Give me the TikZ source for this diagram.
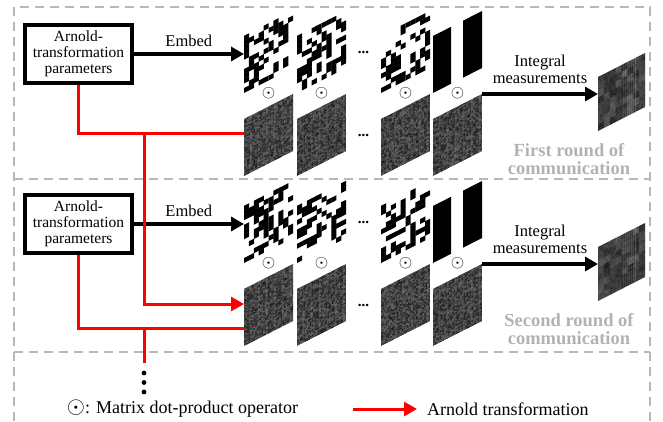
\documentclass[tikz,border=0pt]{standalone}
\usepackage{fontspec}
\setmainfont{Liberation Serif}
\usepackage{tikz}
\usetikzlibrary{positioning, calc, arrows.meta}

% slanted random speckle sheet
\newcommand{\noisetile}[3]{%
  \begin{scope}[shift = {(#2,#3)}, yslant = 0.51]
    \begin{scope}
      \clip (0,0) rectangle (49,57);
      \foreach \i in {0,...,30} {
        \foreach \j in {0,...,35} {
          \pgfmathtruncatemacro{\grey}{62 + 28*rnd}
          \fill [black!\grey] (\i*1.6, \j*1.6) rectangle ++(1.8, 1.8);
        }
      }
    \end{scope}
    \coordinate (#1-sw) at (0,0);
    \coordinate (#1-ne) at (49,57);
    \coordinate (#1-tc) at (24.5,57);
    \coordinate (#1-c) at (24.5,28.5);
    \coordinate (#1-a) at (0,42);
    \coordinate (#1-b) at (0,18);
  \end{scope}}

% slanted binary code sheet
\newcommand{\codetile}[3]{%
  \begin{scope}[shift = {(#2,#3)}, yslant = 0.51]
    \foreach \i in {0,...,9} {
      \foreach \j in {0,...,11} {
        \pgfmathtruncatemacro{\cellon}{rnd < 0.44}
        \ifnum\cellon = 1
          \fill (\i*4.9, \j*4.75) rectangle ++(5.1, 4.95);
        \fi
      }
    }
    \coordinate (#1-sw) at (0,0);
    \coordinate (#1-bc) at (24.5,0);
    \coordinate (#1-c) at (24.5,28.5);
  \end{scope}}

% slanted sheet with two bars
\newcommand{\bartile}[3]{%
  \begin{scope}[shift = {(#2,#3)}, yslant = 0.51]
    \fill (0,0) rectangle (18,57);
    \fill (30,0) rectangle (49,57);
    \coordinate (#1-sw) at (0,0);
    \coordinate (#1-bc) at (24.5,0);
    \coordinate (#1-c) at (24.5,28.5);
  \end{scope}}

% slanted blocky measurement result
\newcommand{\measuretile}[3]{%
  \begin{scope}[shift = {(#2,#3)}, yslant = 0.51]
    \foreach \i in {0,...,7} {
      \foreach \j in {0,...,7} {
        \pgfmathtruncatemacro{\grey}{67 + 20*rnd}
        \expandafter\xdef\csname mblk\i-\j\endcsname{\grey}
      }
    }
    \begin{scope}
      \clip (0,0) rectangle (47,54);
      \foreach \i in {0,...,23} {
        \foreach \j in {0,...,23} {
          \pgfmathtruncatemacro{\bi}{\i/3}
          \pgfmathtruncatemacro{\bj}{\j/3}
          \pgfmathtruncatemacro{\grey}{\csname mblk\bi-\bj\endcsname + 8*(rnd - 0.5)}
          \fill [black!\grey] (\i*1.96, \j*2.25) rectangle ++(2.2, 2.45);
        }
      }
    \end{scope}
    \coordinate (#1-sw) at (0,0);
  \end{scope}}

\begin{document}
\begin{tikzpicture}[x = 1pt, y = 1pt,
    sepline/.style = {draw = black!28, line width = 1.6pt, dash pattern = on 9pt off 6pt},
    param/.style = {draw, line width = 3.2pt, align = center, minimum width = 107pt,
      minimum height = 58pt, inner sep = 2pt, font = \fontsize{15.5}{16}\selectfont},
    flow/.style = {line width = 3.4pt, -{Triangle[length = 13pt, width = 14pt]}},
    arnold/.style = {red, line width = 3pt},
    arnoldtip/.style = {arnold, -{Triangle[length = 13pt, width = 14pt]}},
    lbl/.style = {font = \fontsize{16.5}{17}\selectfont, align = center},
    roundlbl/.style = {text = black!30, font = \fontsize{18.5}{18}\selectfont\bfseries, align = center},
    odotsym/.style = {font = \fontsize{17}{17}\selectfont, inner sep = 0pt},
    skip/.style = {font = \fontsize{15}{15}\selectfont\bfseries, inner sep = 1pt},
    legend/.style = {font = \fontsize{18}{18}\selectfont}]
    \useasboundingbox (0,0) rectangle (663,421);
    \pgfmathsetseed{4242}

    % frame
    \draw [sepline] (14,0) -- (14,414) -- (650,414) -- (650,0);
    \draw [sepline] (14,242) -- (650,242);
    \draw [sepline] (14,69) -- (650,69);

    % first round
    \node [param] (box1) at (78.5,367) {Arnold-\\transformation\\parameters};
    \codetile{p11}{244}{328}
    \codetile{p12}{297}{328}
    \codetile{p13}{381}{328}
    \bartile{p14}{433}{328}
    \noisetile{n11}{244}{245}
    \noisetile{n12}{297}{245}
    \noisetile{n13}{381}{245}
    \noisetile{n14}{433}{245}
    \measuretile{r1}{598}{290}
    \node [odotsym] (o11) at ($(p11-bc)!0.5!(n11-tc)$) {$\odot$};
    \node [odotsym] (o12) at ($(p12-bc)!0.5!(n12-tc)$) {$\odot$};
    \node [odotsym] (o13) at ($(p13-bc)!0.5!(n13-tc)$) {$\odot$};
    \node [odotsym] (o14) at ($(p14-bc)!0.5!(n14-tc)$) {$\odot$};
    \node [skip] (d11) at ($(p12-c)!0.5!(p13-c)$) {...};
    \node [skip] (d12) at ($(n12-c)!0.5!(n13-c)$) {...};
    \draw [flow] (box1.east) -- (box1.east -| p11-sw) node [pos = 0.5, above = 2pt, lbl] {Embed};
    \draw [flow] (n14-ne) -- (n14-ne -| r1-sw) node [pos = 0.5, above = 5pt, lbl]
        {Integral\\measurements};
    \node [roundlbl] (round1) at (569,262) {First round of\\communication};

    % second round
    \node [param] (box2) at (78.5,197) {Arnold-\\transformation\\parameters};
    \codetile{p21}{244}{158}
    \codetile{p22}{297}{158}
    \codetile{p23}{381}{158}
    \bartile{p24}{433}{158}
    \noisetile{n21}{244}{75}
    \noisetile{n22}{297}{75}
    \noisetile{n23}{381}{75}
    \noisetile{n24}{433}{75}
    \measuretile{r2}{598}{120}
    \node [odotsym] (o21) at ($(p21-bc)!0.5!(n21-tc)$) {$\odot$};
    \node [odotsym] (o22) at ($(p22-bc)!0.5!(n22-tc)$) {$\odot$};
    \node [odotsym] (o23) at ($(p23-bc)!0.5!(n23-tc)$) {$\odot$};
    \node [odotsym] (o24) at ($(p24-bc)!0.5!(n24-tc)$) {$\odot$};
    \node [skip] (d21) at ($(p22-c)!0.5!(p23-c)$) {...};
    \node [skip] (d22) at ($(n22-c)!0.5!(n23-c)$) {...};
    \draw [flow] (box2.east) -- (box2.east -| p21-sw) node [pos = 0.5, above = 2pt, lbl] {Embed};
    \draw [flow] (n24-ne) -- (n24-ne -| r2-sw) node [pos = 0.5, above = 5pt, lbl]
        {Integral\\measurements};
    \node [roundlbl] (round2) at (569,91.5) {Second round of\\communication};

    % arnold transformation paths
    \draw [arnold] (box1.south) |- (n11-a);
    \coordinate (j1) at ($(box1.south |- n11-a) + (65.5,0)$);
    \draw [arnoldtip] (j1) |- (n21-a);
    \draw [arnold] (box2.south) |- (n21-b);
    \coordinate (j2) at ($(box2.south |- n21-b) + (65.5,0)$);
    \coordinate (more) at ($(j2) + (0,-35)$);
    \draw [arnold] (j2) -- (more);
    \foreach \k in {1,2,3}
        \fill ($(more) + (0,-0.5-9.5*\k)$) circle (2.4);

    % legend
    \node [legend] (opnote) at (182.5,12) {\scalebox{1.35}{$\odot$}: Matrix dot-product operator};
    \node [legend, anchor = west, inner xsep = 10pt] (arnote) at (417,12) {Arnold transformation};
    \coordinate (artail) at (353,12);
    \draw [arnoldtip] (artail) -- (arnote.west);
\end{tikzpicture}
\end{document}
